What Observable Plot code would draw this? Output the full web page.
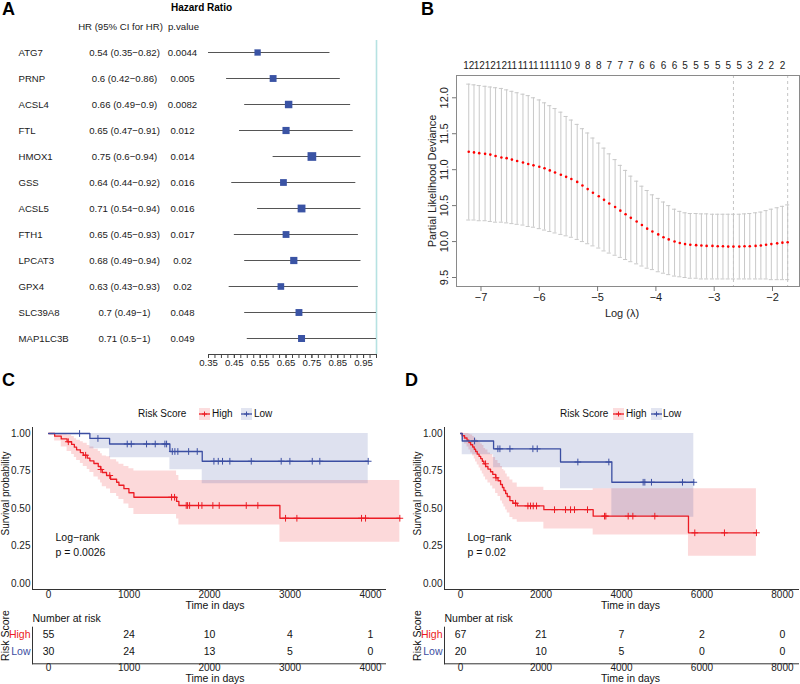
<!DOCTYPE html>
<html><head><meta charset="utf-8">
<script src="https://cdn.jsdelivr.net/npm/d3@7"></script>
<script src="https://cdn.jsdelivr.net/npm/@observablehq/plot@0.6"></script>
<style>
body{margin:0;background:#fff;}
#root{position:relative;width:800px;height:684px;overflow:hidden;font-family:'Liberation Sans',Arial,Helvetica,sans-serif;color:#111;}
.pane{position:absolute;}
.lbl{position:absolute;font-weight:bold;font-size:18px;line-height:18px;color:#000;}
.lg{position:absolute;font-size:10px;line-height:12px;white-space:nowrap;color:#111;}
.lg svg{display:block;}
</style></head><body><div id="root"></div>
<script>
// ===== Panel A : univariate Cox forest plot =====
const genes = ["ATG7","PRNP","ACSL4","FTL","HMOX1","GSS","ACSL5","FTH1","LPCAT3","GPX4","SLC39A8","MAP1LC3B"];
const hr      = [0.54,0.60,0.66,0.65,0.75,0.64,0.71,0.65,0.68,0.63,0.70,0.71];
const hrLower = [0.35,0.42,0.49,0.47,0.60,0.44,0.54,0.45,0.49,0.43,0.49,0.50];
const hrUpper = [0.82,0.86,0.90,0.91,0.94,0.92,0.94,0.93,0.94,0.93,1.00,1.00];
const pValues = ["0.0044","0.005","0.0082","0.012","0.014","0.016","0.016","0.017","0.02","0.02","0.048","0.049"];
const hrTicks = [0.35,0.45,0.55,0.65,0.75,0.85,0.95];

// ===== Panel B : LASSO cross-validation =====
const logLambda = [-7.21,-7.12,-7.03,-6.93,-6.84,-6.75,-6.65,-6.56,-6.47,-6.38,
  -6.28,-6.19,-6.10,-6.00,-5.91,-5.82,-5.73,-5.63,-5.54,-5.45,
  -5.35,-5.26,-5.17,-5.08,-4.98,-4.89,-4.80,-4.70,-4.61,-4.52,
  -4.43,-4.33,-4.24,-4.15,-4.06,-3.96,-3.87,-3.78,-3.68,-3.59,
  -3.50,-3.41,-3.31,-3.22,-3.13,-3.03,-2.94,-2.85,-2.76,-2.67,
  -2.57,-2.48,-2.39,-2.29,-2.20,-2.11,-2.02,-1.92,-1.83,-1.74];
const cvMean = [11.25,11.24,11.23,11.22,11.21,11.19,11.17,11.16,11.14,11.12,
  11.10,11.08,11.06,11.04,11.02,10.99,10.96,10.93,10.90,10.87,
  10.83,10.78,10.73,10.68,10.63,10.58,10.53,10.48,10.43,10.38,
  10.33,10.28,10.23,10.18,10.14,10.10,10.06,10.03,10.00,9.98,
  9.965,9.955,9.95,9.945,9.94,9.94,9.935,9.935,9.93,9.93,
  9.93,9.935,9.935,9.94,9.945,9.955,9.965,9.975,9.985,9.99];
const cvUpper = [12.19,12.18,12.17,12.16,12.15,12.14,12.13,12.11,12.09,12.07,
  12.05,12.03,12.00,11.97,11.93,11.89,11.85,11.80,11.74,11.69,
  11.63,11.57,11.51,11.44,11.37,11.30,11.22,11.14,11.06,10.99,
  10.91,10.84,10.77,10.71,10.65,10.60,10.55,10.50,10.45,10.42,
  10.40,10.39,10.39,10.385,10.385,10.38,10.38,10.38,10.38,10.38,
  10.38,10.385,10.39,10.40,10.41,10.43,10.45,10.47,10.49,10.51];
const cvLower = [10.30,10.30,10.29,10.29,10.28,10.27,10.27,10.26,10.25,10.24,
  10.23,10.21,10.20,10.18,10.16,10.14,10.12,10.10,10.08,10.06,
  10.03,10.00,9.97,9.94,9.91,9.87,9.84,9.81,9.78,9.75,
  9.72,9.69,9.66,9.63,9.61,9.58,9.56,9.54,9.52,9.51,
  9.50,9.49,9.49,9.48,9.48,9.48,9.48,9.48,9.48,9.48,
  9.48,9.48,9.48,9.48,9.48,9.48,9.47,9.47,9.47,9.47];
const nonzeroLabels = [12,12,12,12,11,11,11,11,11,10,9,8,8,7,7,7,6,6,6,6,5,5,5,5,5,5,3,2,2,2];
const lambdaLines = [-2.67,-1.74];
const bXTicks = [-7,-6,-5,-4,-3,-2];
const bYTicks = [9.5,10,10.5,11,11.5,12];

// ===== Panels C/D : Kaplan-Meier =====
const riskGroups = ["High","Low"];
const groupColors = ["#ec1c24","#3b4ea2"];
const kmYTicks = [0,0.25,0.5,0.75,1];

const cHighTime  = [0,75,157,230,286,320,348,395,431,480,513,563,617,646,667,720,770,845,874,936,998,1060,1590,1619,2874,4364];
const cHighSurv  = [1,0.982,0.964,0.945,0.927,0.909,0.891,0.873,0.855,0.836,0.818,0.80,0.78,0.76,0.74,0.72,0.695,0.675,0.655,0.632,0.605,0.575,0.547,0.52,0.435,0.435];
const cHighLower = [1,0.95,0.91,0.88,0.86,0.84,0.82,0.80,0.78,0.76,0.74,0.71,0.69,0.67,0.645,0.63,0.60,0.58,0.56,0.53,0.50,0.46,0.43,0.39,0.275,0.275];
const cHighUpper = [1,1,1,0.99,0.98,0.965,0.955,0.945,0.935,0.92,0.91,0.895,0.88,0.865,0.85,0.845,0.825,0.81,0.795,0.78,0.765,0.75,0.72,0.687,0.687,0.687];
const cHighCensor = [245,460,650,760,1528,1565,1710,1727,1752,1863,1905,2041,2120,2456,2600,2944,3085,3888,3938,4364];
const cLowTime  = [0,513,758,1507,1909,3971];
const cLowSurv  = [1,0.967,0.930,0.880,0.815,0.815];
const cLowLower = [1,0.898,0.838,0.758,0.665,0.665];
const cLowUpper = [1,1,1,1,1,1];
const cLowCensor = [385,613,977,1027,1217,1325,1445,1466,1537,1569,1606,1740,1847,2054,2108,2161,2252,2518,2890,2998,3276,3370,3971];

const dHighTime  = [0,40,100,160,207,250,300,340,373,414,460,500,540,580,621,680,745,800,870,930,994,1040,1077,1120,1160,1226,1300,1408,2070,3296,5665,7354];
const dHighSurv  = [1,0.985,0.970,0.955,0.94,0.925,0.91,0.895,0.88,0.862,0.847,0.832,0.815,0.798,0.78,0.763,0.745,0.727,0.705,0.685,0.66,0.64,0.62,0.60,0.58,0.553,0.535,0.517,0.492,0.449,0.338,0.338];
const dHighLower = [1,0.96,0.93,0.91,0.89,0.87,0.85,0.83,0.81,0.79,0.77,0.75,0.73,0.71,0.69,0.67,0.65,0.63,0.60,0.58,0.55,0.53,0.51,0.49,0.47,0.44,0.425,0.409,0.364,0.324,0.182,0.182];
const dHighUpper = [1,1,1,1,0.995,0.99,0.98,0.97,0.96,0.95,0.94,0.93,0.92,0.90,0.89,0.87,0.86,0.84,0.82,0.80,0.78,0.76,0.75,0.73,0.71,0.69,0.67,0.642,0.62,0.631,0.631,0.631];
const dHighCensor = [620,880,1366,1673,1739,1806,1888,2335,2609,2733,2832,3155,3578,3611,4166,4282,4828,5822,6559,7354];
const dLowTime  = [0,41,820,2484,3760,5797];
const dLowSurv  = [1,0.95,0.898,0.81,0.675,0.675];
const dLowLower = [1,0.858,0.771,0.631,0.442,0.442];
const dLowUpper = [1,1,1,1,1,1];
const dLowCensor = [348,927,977,1226,1797,1905,2915,3685,4538,4580,4745,5516,5797];

const cPText = "p = 0.0026";
const dPText = "p = 0.02";
const cRiskTimes = [0,1000,2000,3000,4000];
const cRiskHigh  = [55,24,10,4,1];
const cRiskLow   = [30,24,13,5,0];
const dRiskTimes = [0,2000,4000,6000,8000];
const dRiskHigh  = [67,21,7,2,0];
const dRiskLow   = [20,10,5,0,0];

// ===== helpers =====
const FONT = "'Liberation Sans', Arial, Helvetica, sans-serif";
const baseStyle = {background:"transparent", fontFamily:FONT, fontSize:"10.5px", color:"#111", overflow:"visible"};
const root = document.getElementById("root");
function place(node, left, top){ const d=document.createElement("div"); d.className="pane"; d.style.left=left+"px"; d.style.top=top+"px"; d.appendChild(node); root.appendChild(d); }
function label(txt, left, top){ const d=document.createElement("div"); d.className="lbl"; d.textContent=txt; d.style.left=left+"px"; d.style.top=top+"px"; root.appendChild(d); }
const colorScale = {domain:riskGroups, range:groupColors};
const M = {lineAnchor:"middle"};
const FA = 9.6; // panel A text size

// ===== Panel A =====
const rowsA = genes.map((g,i)=>({gene:g, hr:hr[i], lo:hrLower[i], hi:hrUpper[i], p:pValues[i],
  ci:`${hr[i]} (${hrLower[i]}\u2212${hrUpper[i]})`,
  prec: 1/(Math.log(hrUpper[i])-Math.log(hrLower[i]))}));
const minorA = d3.range(14,41).map(i=>i/40);
const plotA = Plot.plot({
  width:400, height:375, marginLeft:208, marginRight:24, marginTop:40, marginBottom:21,
  style: baseStyle,
  x:{domain:[0.35,1.0], label:null},
  y:{type:"point", domain:genes, range:[52,338], padding:0, round:false, axis:null},
  r:{type:"sqrt", domain:[0, d3.max(rowsA,d=>d.prec)], range:[0,4.9]},
  marks:[
    Plot.ruleX([1], {stroke:"#b6e2e2", strokeWidth:1.6}),
    Plot.ruleY(rowsA, {y:"gene", x1:"lo", x2:"hi", stroke:"#555", strokeWidth:1}),
    Plot.dot(rowsA, {x:"hr", y:"gene", r:"prec", symbol:"square", fill:"#3a53a4", stroke:"none"}),
    Plot.frame({anchor:"bottom", stroke:"#444"}),
    Plot.axisX(minorA, {tickSize:4, tickFormat:()=>"", stroke:"#444", label:null}),
    Plot.axisX(hrTicks, {tickSize:4, tickPadding:1, tickFormat:d3.format(".2f"), fontSize:9.6, stroke:"#444", fill:"#222", label:null}),
    Plot.text(rowsA, {y:"gene", text:"gene", frameAnchor:"left", dx:-190, textAnchor:"start", ...M, fontSize:FA, fill:"#1a1a1a"}),
    Plot.text(rowsA, {y:"gene", text:"ci", frameAnchor:"left", dx:-84, textAnchor:"middle", ...M, fontSize:FA, fill:"#1a1a1a"}),
    Plot.text(rowsA, {y:"gene", text:"p", frameAnchor:"left", dx:-26, textAnchor:"middle", ...M, fontSize:FA, fill:"#1a1a1a"}),
    Plot.text(["HR (95% CI for HR)"], {frameAnchor:"top-left", dx:-88, dy:-14, textAnchor:"middle", ...M, fontSize:FA, fill:"#1a1a1a"}),
    Plot.text(["p.value"], {frameAnchor:"top-left", dx:-25, dy:-14, textAnchor:"middle", ...M, fontSize:FA, fill:"#1a1a1a"}),
    Plot.text(["Hazard Ratio"], {frameAnchor:"top-left", dx:-7, dy:-33, textAnchor:"middle", ...M, fontSize:10, fontWeight:"bold", fill:"#000"})
  ]
});
place(plotA, 0, 0);

// ===== Panel B =====
const cvRows = logLambda.map((x,i)=>({x, m:cvMean[i], hi:cvUpper[i], lo:cvLower[i]}));
const topRows = nonzeroLabels.map((n,i)=>({x:logLambda[2*i], n}));
const plotB = Plot.plot({
  width:400, height:320, marginLeft:56, marginRight:1, marginTop:75, marginBottom:34,
  style: baseStyle,
  x:{domain:[-7.42,-1.537], label:null},
  y:{domain:[9.375,12.31], label:null},
  marks:[
    Plot.ruleX(cvRows, {x:"x", y1:"lo", y2:"hi", stroke:"#c9c9c9", strokeWidth:1}),
    Plot.ruleY(cvRows, {y:"hi", x1:d=>d.x-0.035, x2:d=>d.x+0.035, stroke:"#c9c9c9"}),
    Plot.ruleY(cvRows, {y:"lo", x1:d=>d.x-0.035, x2:d=>d.x+0.035, stroke:"#c9c9c9"}),
    Plot.ruleX(lambdaLines, {stroke:"#c4c4c4", strokeDasharray:"3,3"}),
    Plot.dot(cvRows, {x:"x", y:"m", r:1.3, fill:"#ff0000", stroke:"none"}),
    Plot.frame({stroke:"#8a8a8a"}),
    Plot.axisX(bXTicks, {tickSize:5, tickPadding:2, fontSize:11, stroke:"#777", fill:"#222", label:null}),
    Plot.axisY(bYTicks, {tickSize:4, tickFormat:()=>"", stroke:"#777", label:null}),
    Plot.text(bYTicks, {y:d=>d, text:d=>d.toFixed(1), frameAnchor:"left", dx:-12, rotate:-90, textAnchor:"middle", ...M, fontSize:11, fill:"#222"}),
    Plot.text(topRows, {x:"x", text:"n", frameAnchor:"top", dy:-10, ...M, fontSize:10, fill:"#222"}),
    Plot.text(["Log (\u03bb)"], {frameAnchor:"bottom", dx:-6, dy:27, ...M, fontSize:11, fill:"#222"}),
    Plot.text(["Partial Likelihood Deviance"], {frameAnchor:"left", dx:-24, rotate:-90, textAnchor:"middle", ...M, fontSize:11, fill:"#222"})
  ]
});
place(plotB, 400, 0);

// ===== KM helpers =====
function survAt(times, surv, t){ let v=surv[0]; for(let i=0;i<times.length;i++){ if(times[i]<=t) v=surv[i]; } return v; }
function kmPlot(groups, xDomain, xTicks, marginLeft, marginRight, pText, titleDx){
  const rows=[], cens=[];
  groups.forEach(g=>{
    g.time.forEach((t,i)=>rows.push({g:g.name, t, s:g.surv[i], lo:g.lower[i], hi:g.upper[i]}));
    g.censor.forEach(t=>cens.push({g:g.name, t, s:survAt(g.time,g.surv,t)}));
  });
  return Plot.plot({
    width:400, height:215, marginLeft, marginRight, marginTop:32, marginBottom:21,
    style: baseStyle,
    x:{domain:xDomain, label:null},
    y:{domain:[-0.04,1.04], label:null},
    color: colorScale,
    marks:[
      Plot.areaY(rows, {x:"t", y1:"lo", y2:"hi", fill:"g", fillOpacity:0.17, curve:"step-after"}),
      Plot.line(rows, {x:"t", y:"s", stroke:"g", curve:"step-after", strokeWidth:1.3}),
      Plot.dot(cens, {x:"t", y:"s", stroke:"g", symbol:"plus", r:2.3, strokeWidth:1}),
      Plot.frame({anchor:"left", stroke:"#333"}),
      Plot.frame({anchor:"bottom", stroke:"#333"}),
      Plot.axisX(xTicks, {tickSize:0, tickPadding:1, tickFormat:d3.format("d"), fontSize:10, fill:"#222", label:null}),
      Plot.axisY(kmYTicks, {tickSize:0, tickPadding:2, tickFormat:d3.format(".2f"), fontSize:10, fill:"#222", label:null}),
      Plot.text(["Time in days"], {frameAnchor:"bottom", dx:titleDx, dy:16, ...M, fontSize:10.5, fill:"#111"}),
      Plot.text(["Survival probability"], {frameAnchor:"left", dx:-26.5, dy:-15, rotate:-90, textAnchor:"middle", ...M, fontSize:10, fill:"#111"}),
      Plot.text(["Log\u2212rank"], {frameAnchor:"bottom-left", dx:23, dy:-52, textAnchor:"start", ...M, fontSize:10.5, fill:"#111"}),
      Plot.text([pText], {frameAnchor:"bottom-left", dx:23, dy:-37, textAnchor:"start", ...M, fontSize:10.5, fill:"#111"})
    ]
  });
}
function riskPlot(times, high, low, xDomain, xTicks, marginLeft, marginRight, titleDx){
  const rows = times.flatMap((t,i)=>[{g:riskGroups[0], t, n:high[i]},{g:riskGroups[1], t, n:low[i]}]);
  return Plot.plot({
    width:400, height:74, marginLeft, marginRight, marginTop:16.7, marginBottom:20.7,
    style: baseStyle,
    x:{domain:xDomain, label:null},
    y:{type:"point", domain:riskGroups, range:[24.5,41], padding:0, round:false, axis:null},
    color: colorScale,
    marks:[
      Plot.frame({anchor:"left", stroke:"#333"}),
      Plot.frame({anchor:"bottom", stroke:"#333"}),
      Plot.text(rows, {x:"t", y:"g", text:"n", ...M, fontSize:10.5, fill:"#111"}),
      Plot.text(riskGroups, {y:d=>d, text:d=>d, fill:d=>d, frameAnchor:"left", dx:-2, textAnchor:"end", ...M, fontSize:10.5}),
      Plot.axisX(xTicks, {tickSize:0, tickPadding:0, tickFormat:d3.format("d"), fontSize:10, fill:"#222", label:null}),
      Plot.text(["Time in days"], {frameAnchor:"bottom", dx:titleDx, dy:15, ...M, fontSize:10.5, fill:"#111"}),
      Plot.text(["Number at risk"], {frameAnchor:"top-left", dy:-8.4, textAnchor:"start", ...M, fontSize:10.5, fill:"#111"}),
      Plot.text(["Risk Score"], {frameAnchor:"left", dx:-27, dy:-10, rotate:-90, textAnchor:"middle", ...M, fontSize:10.5, fill:"#111"})
    ]
  });
}
function legend(items){
  items.forEach(it=>{
    const d=document.createElement("div"); d.className="lg"; d.style.left=it.x+"px"; d.style.top="408px";
    if(it.key!==undefined){
      const c=groupColors[it.key];
      d.innerHTML=`<svg width="11" height="12"><rect width="11" height="12" fill="${c}" fill-opacity="0.15"/><line x1="0" x2="11" y1="6" y2="6" stroke="${c}" stroke-width="1.3"/><path d="M5.5,3.5V8.5M3,6H8" stroke="${c}" stroke-width="1"/></svg>`;
    } else d.textContent=it.text;
    root.appendChild(d);
  });
}

// ===== Panel C =====
const groupsC = [
  {name:riskGroups[0], time:cHighTime, surv:cHighSurv, lower:cHighLower, upper:cHighUpper, censor:cHighCensor},
  {name:riskGroups[1], time:cLowTime, surv:cLowSurv, lower:cLowLower, upper:cLowUpper, censor:cLowCensor}
];
place(kmPlot(groupsC, [-200,4186], cRiskTimes, 32, 15, cPText, 6), 0, 395);
place(riskPlot(cRiskTimes, cRiskHigh, cRiskLow, [-200,4186], cRiskTimes, 32, 15, 6), 0, 610);
legend([{x:138,text:"Risk Score"},{x:199,key:0},{x:212,text:riskGroups[0]},{x:241,key:1},{x:254,text:riskGroups[1]}]);

// ===== Panel D =====
const groupsD = [
  {name:riskGroups[0], time:dHighTime, surv:dHighSurv, lower:dHighLower, upper:dHighUpper, censor:dHighCensor},
  {name:riskGroups[1], time:dLowTime, surv:dLowSurv, lower:dLowLower, upper:dLowUpper, censor:dLowCensor}
];
place(kmPlot(groupsD, [-400,8400], dRiskTimes, 44, 2, dPText, 9), 400, 395);
place(riskPlot(dRiskTimes, dRiskHigh, dRiskLow, [-400,8400], dRiskTimes, 44, 2, 9), 400, 610);
legend([{x:560,text:"Risk Score"},{x:613,key:0},{x:626,text:riskGroups[0]},{x:651,key:1},{x:663,text:riskGroups[1]}]);

// panel letters
label("A", 2, 0); label("B", 421, 0); label("C", 2, 371); label("D", 405, 371);
</script></body></html>
